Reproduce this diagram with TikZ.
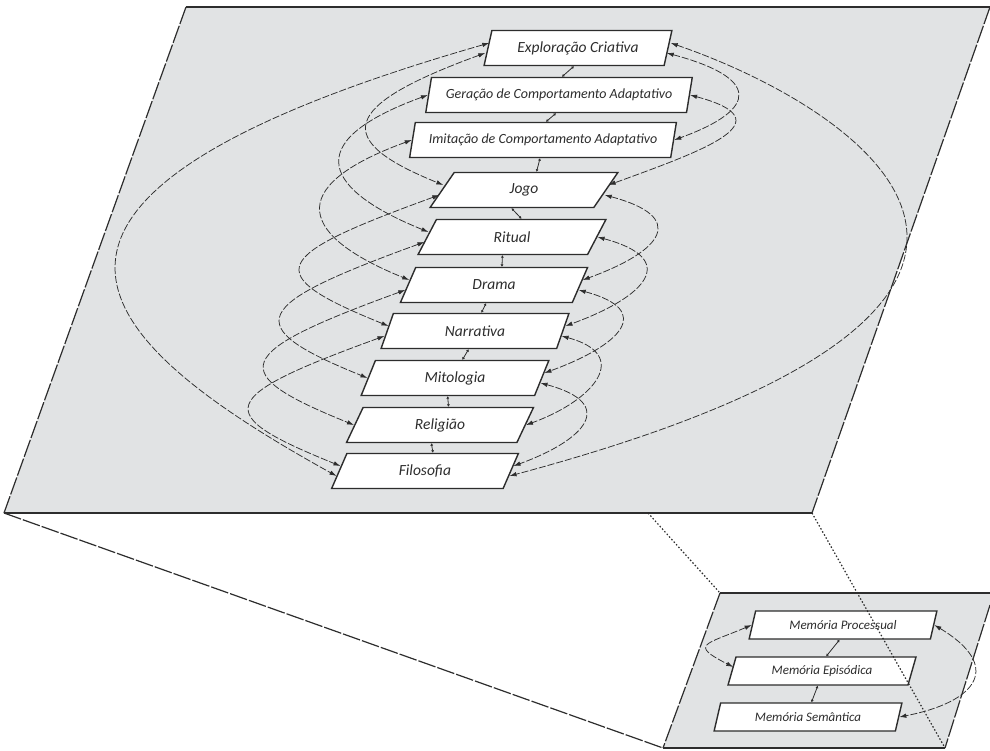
\documentclass[tikz,border=0pt]{standalone}
\usepackage{fontspec}
\setmainfont{Carlito}
\usetikzlibrary{shapes.geometric, arrows.meta, backgrounds}

\definecolor{planegray}{RGB}{225,227,228}
\definecolor{ink}{RGB}{45,45,45}

\begin{document}
\begin{tikzpicture}[
        x=1pt, y=1pt,
        block/.style={trapezium, trapezium left angle=70, trapezium right angle=110, trapezium stretches=true, draw=ink, line width=1.4pt, fill=white, text=ink, font=\itshape\fontsize{15.5}{17}\selectfont, minimum width=188pt, minimum height=35pt, inner sep=1pt},
        wideblock/.style={block, minimum width=267pt, font=\itshape\fontsize{14}{16}\selectfont},
        memblock/.style={block, minimum height=28pt, font=\itshape\fontsize{13}{15}\selectfont},
        swirl/.style={draw=ink, line width=0.75pt, dash pattern=on 7pt off 2pt, {Latex[length=7pt,width=4.5pt]}-{Latex[length=7pt,width=4.5pt]}},
        stem/.style={draw=ink, line width=0.8pt, {Latex[length=2.5pt,width=3pt]}-{Latex[length=2.5pt,width=3pt]}},
        rim/.style={draw=ink, line width=1.4pt},
        rimdash/.style={draw=ink, line width=1.2pt, dash pattern=on 18pt off 2pt},
        zoomline/.style={draw=ink, line width=1.2pt, dash pattern=on 1.5pt off 2pt}
    ]
        \useasboundingbox (0,0) rectangle (990,-751);

        % Plane corners
        \coordinate (big nw) at (186,-7);
        \coordinate (big ne) at (990,-7);
        \coordinate (big se) at (812,-513);
        \coordinate (big sw) at (4,-513);
        \coordinate (big cut) at (648,-513);
        \coordinate (small nw) at (720,-593);
        \coordinate (small ne) at (990,-593);
        \coordinate (small ee) at (990,-605);
        \coordinate (small se) at (945,-748);
        \coordinate (small sw) at (663,-748);

        % Main column
        \node [block] (explor) at (578,-48) {Exploração Criativa};
        \node [wideblock] (geracao) at (559,-95) {Geração de Comportamento Adaptativo};
        \node [wideblock] (imitacao) at (543,-140) {Imitação de Comportamento Adaptativo};
        \node [block] (jogo) at (524,-190) {Jogo};
        \node [block] (ritual) at (512,-237) {Ritual};
        \node [block] (drama) at (494,-285) {Drama};
        \node [block] (narrativa) at (475,-331) {Narrativa};
        \node [block] (mito) at (455,-378) {Mitologia};
        \node [block] (religiao) at (440,-425) {Religião};
        \node [block] (filo) at (425,-471) {Filosofia};

        \path [stem] (explor.bottom side) -- (geracao.top side);
        \path [stem] (geracao.bottom side) -- (imitacao.top side);
        \path [stem] (imitacao.bottom side) -- (jogo.top side);
        \path [stem] (jogo.bottom side) -- (ritual.top side);
        \path [stem] (ritual.bottom side) -- (drama.top side);
        \path [stem] (drama.bottom side) -- (narrativa.top side);
        \path [stem] (narrativa.bottom side) -- (mito.top side);
        \path [stem] (mito.bottom side) -- (religiao.top side);
        \path [stem] (religiao.bottom side) -- (filo.top side);

        % Left spirals
        \path [swirl] ([shift={(-2,-5)}]explor.left side) .. controls +(200:155) and +(158:120) .. ([shift={(2,5)}]jogo.left side);
        \path [swirl] (geracao.left side) .. controls +(200:140) and +(158:110) .. ([shift={(2,5)}]ritual.left side);
        \path [swirl] (imitacao.left side) .. controls +(200:140) and +(158:115) .. ([shift={(2,5)}]drama.left side);
        \path [swirl] ([shift={(-2,-5)}]jogo.left side) .. controls +(200:180) and +(158:140) .. ([shift={(2,5)}]narrativa.left side);
        \path [swirl] ([shift={(-2,-5)}]ritual.left side) .. controls +(200:185) and +(158:140) .. (mito.left side);
        \path [swirl] ([shift={(-2,-5)}]drama.left side) .. controls +(200:185) and +(158:140) .. (religiao.left side);
        \path [swirl] ([shift={(-2,-5)}]narrativa.left side) .. controls +(200:180) and +(158:140) .. ([shift={(2,5)}]filo.left side);
        \path [swirl] ([shift={(2,5)}]explor.left side) .. controls +(196:570) and +(151:277) .. ([shift={(-2,-5)}]filo.left side);

        % Right spirals
        \path [swirl] ([shift={(-2,-5)}]explor.right side) .. controls +(-15:95) and +(20:92) .. (imitacao.right side);
        \path [swirl] (geracao.right side) .. controls +(-15:100) and +(20:104) .. ([shift={(2,5)}]jogo.right side);
        \path [swirl] ([shift={(-2,-5)}]jogo.right side) .. controls +(-15:86) and +(20:86) .. ([shift={(2,5)}]drama.right side);
        \path [swirl] (ritual.right side) .. controls +(-15:86) and +(20:86) .. ([shift={(2,5)}]narrativa.right side);
        \path [swirl] ([shift={(-2,-5)}]drama.right side) .. controls +(-15:80) and +(20:80) .. ([shift={(2,5)}]mito.right side);
        \path [swirl] ([shift={(-2,-5)}]narrativa.right side) .. controls +(-15:73) and +(20:73) .. (religiao.right side);
        \path [swirl] ([shift={(-2,-5)}]mito.right side) .. controls +(-15:80) and +(20:77) .. ([shift={(2,5)}]filo.right side);
        \path [swirl] ([shift={(2,5)}]explor.right side) .. controls +(-19:205) and +(15:665) .. ([shift={(-2,-5)}]filo.right side);

        % Memory plane
        \node [memblock] (proc) at (843,-625) {Memória Processual};
        \node [memblock] (epis) at (822,-671) {Memória Episódica};
        \node [memblock] (seman) at (808,-717) {Memória Semântica};

        \path [stem] (proc.bottom side) -- (epis.top side);
        \path [stem] (epis.bottom side) -- (seman.top side);
        \path [swirl] (proc.left side) .. controls +(203:50) and +(153:50) .. ([shift={(2,4)}]epis.left side);
        \path [swirl] (proc.right side) .. controls +(-31:80) and +(11:80) .. (seman.right side);

        \begin{scope}[on background layer]
            \fill [planegray] (big nw) -- (big ne) -- (big se) -- (big sw) -- cycle;
            \fill [planegray] (small nw) -- (small ne) -- (small ee) -- (small se) -- (small sw) -- cycle;
            \path [rim] (big nw) -- (big ne);
            \path [rim] (big sw) -- (big se);
            \path [rimdash] (big nw) -- (big sw);
            \path [rimdash] (big ne) -- (big se);
            \path [rim] (small nw) -- (small ne);
            \path [rim] (small sw) -- (small se);
            \path [rimdash] (small nw) -- (small sw);
            \path [rimdash] (small ee) -- (small se);
            \path [rimdash] (big sw) -- (small sw);
            \path [zoomline] (big cut) -- (small nw);
        \end{scope}

        % Zoom guide over the memory plane
        \path [zoomline] (big se) -- (small se);

    \end{tikzpicture}
\end{document}
